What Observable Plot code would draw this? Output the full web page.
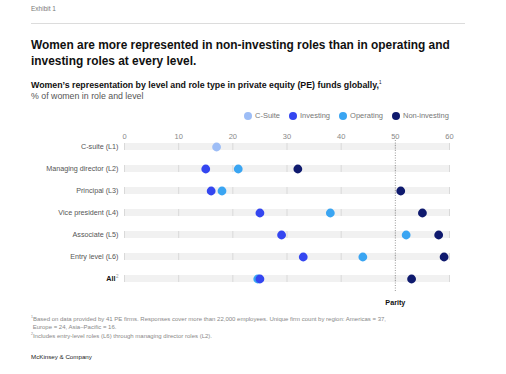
<!DOCTYPE html>
<html>
<head>
<meta charset="utf-8">
<script src="https://cdn.jsdelivr.net/npm/d3@7"></script>
<script src="https://cdn.jsdelivr.net/npm/@observablehq/plot@0.6"></script>
<style>
  html, body { margin: 0; padding: 0; background: #fff; }
  body { width: 506px; height: 374px; position: relative; overflow: hidden; font-family: "Liberation Sans", Arial, sans-serif; }
  .abs { position: absolute; white-space: nowrap; }
  #exhibit { left: 31px; top: 5px; font-size: 6.5px; color: #777; }
  #rule { left: 31px; top: 23px; width: 434px; height: 1px; background: #dcdcdc; }
  #title { left: 31px; top: 37px; font-size: 11.9px; line-height: 16px; font-weight: bold; color: #111; }
  #subtitle { left: 31px; top: 80px; font-size: 8.8px; font-weight: bold; color: #111; }
  #subtitle sup { font-size: 4.5px; font-weight: normal; }
  #unit { left: 31px; top: 91px; font-size: 8.8px; color: #555; }
  #legend { left: 244px; top: 111px; display: flex; gap: 9px; font-size: 7.5px; color: #777; }
  #legend .item { display: flex; align-items: center; gap: 3px; }
  #legend .sw { width: 8px; height: 8px; border-radius: 50%; display: inline-block; }
  #chart { left: 0; top: 125px; }
  #notes { left: 31px; top: 314px; font-size: 6px; line-height: 7.5px; color: #888; }
  #notes sup { font-size: 3.5px; }
  #brand { left: 31px; top: 353px; font-size: 6.2px; color: #222; }
</style>
</head>
<body>
<div class="abs" id="exhibit">Exhibit 1</div>
<div class="abs" id="rule"></div>
<div class="abs" id="title">Women are more represented in non-investing roles than in operating and<br>investing roles at every level.</div>
<div class="abs" id="subtitle">Women’s representation by level and role type in private equity (PE) funds globally,<sup>1</sup></div>
<div class="abs" id="unit">% of women in role and level</div>
<div class="abs" id="legend"></div>
<div class="abs" id="chart"></div>
<div class="abs" id="notes"><sup>1</sup>Based on data provided by 41 PE firms. Responses cover more than 22,000 employees. Unique firm count by region: Americas = 37,<br>&nbsp;Europe = 24, Asia–Pacific = 16.<br><sup>2</sup>Includes entry-level roles (L6) through managing director roles (L2).</div>
<div class="abs" id="brand">McKinsey &amp; Company</div>
<script>
// ---- data ----
const levels = ["C-suite (L1)", "Managing director (L2)", "Principal (L3)", "Vice president (L4)", "Associate (L5)", "Entry level (L6)", "All"];
const series = ["C-Suite", "Investing", "Operating", "Non-investing"];
const seriesColors = ["#9dbdf6", "#3446f0", "#3aa5f2", "#0f1a6e"];
const cSuite = [17, null, null, null, null, null, null];
const investing = [null, 15, 16, 25, 29, 33, 25];
const operating = [null, 21, 18, 38, 52, 44, 24.6];
const nonInvesting = [null, 32, 51, 55, 58, 59, 53];
const xTicks = [0, 10, 20, 30, 40, 50, 60];
const parity = 50;

// ---- build table ----
const cols = [cSuite, investing, operating, nonInvesting];
const points = [];
// draw order: C-suite, operating, investing, non-investing (investing on top of operating)
[0, 2, 1, 3].forEach(si => {
  levels.forEach((lv, i) => {
    const v = cols[si][i];
    if (v != null) points.push({level: lv, value: v, series: series[si]});
  });
});
const grid = levels.flatMap(lv => xTicks.map(t => ({level: lv, t})));

// legend
const legend = document.getElementById("legend");
series.forEach((s, i) => {
  const el = document.createElement("span");
  el.className = "item";
  el.innerHTML = `<span class="sw" style="background:${seriesColors[i]}"></span>${s}`;
  legend.appendChild(el);
});

const font = "Liberation Sans, Arial, sans-serif";
const step = 22.5, pIn = 0.69, pOut = 0.5;
const r0 = 20 - (pOut * step + (1 - pIn) * step / 2);
const r1 = r0 + step * (levels.length - pIn + 2 * pOut);

const chart = Plot.plot({
  width: 506,
  height: 185,
  marginLeft: 124,
  marginRight: 57,
  marginTop: 16,
  marginBottom: 6,
  style: {fontFamily: font, fontSize: "7.5px", color: "#888", background: "transparent"},
  x: {domain: [0, 60], axis: null},
  y: {type: "band", domain: levels, range: [r0, r1], paddingInner: pIn, paddingOuter: pOut, align: 0.5, axis: null},
  color: {domain: series, range: seriesColors},
  marks: [
    Plot.barX(levels, {y: d => d, x1: 0, x2: 60, fill: "#f1f1f1"}),
    Plot.tickX(grid, {x: "t", y: "level", stroke: "#d9d9d9", strokeWidth: 1}),
    Plot.ruleX([parity], {x: d => d, stroke: "#9a9a9a", strokeDasharray: "1,1.5", strokeWidth: 1, insetBottom: 12, insetTop: -1}),
    Plot.axisX(xTicks, {anchor: "top", tickSize: 0, tickPadding: 3, label: null, fill: "#888", fontSize: 7.5}),
    Plot.text(levels.filter(d => d !== "All"), {x: 0, y: d => d, text: d => d, textAnchor: "end", dx: -6, fill: "#555", fontSize: 7.2}),
    Plot.text(["All"], {x: 0, y: d => d, text: d => d, textAnchor: "end", dx: -9, fill: "#111", fontWeight: "bold", fontSize: 7.2}),
    Plot.text(["All"], {x: 0, y: d => d, text: () => "2", textAnchor: "end", dx: -6, dy: -2, fill: "#999", fontSize: 4.5}),
    Plot.dot(points, {x: "value", y: "level", fill: "series", r: 4.4}),
    Plot.text([parity], {x: d => d, frameAnchor: "bottom", lineAnchor: "bottom", text: () => "Parity", fill: "#111", fontWeight: "bold", fontSize: 7.2})
  ]
});
document.getElementById("chart").appendChild(chart);
</script>
</body>
</html>
